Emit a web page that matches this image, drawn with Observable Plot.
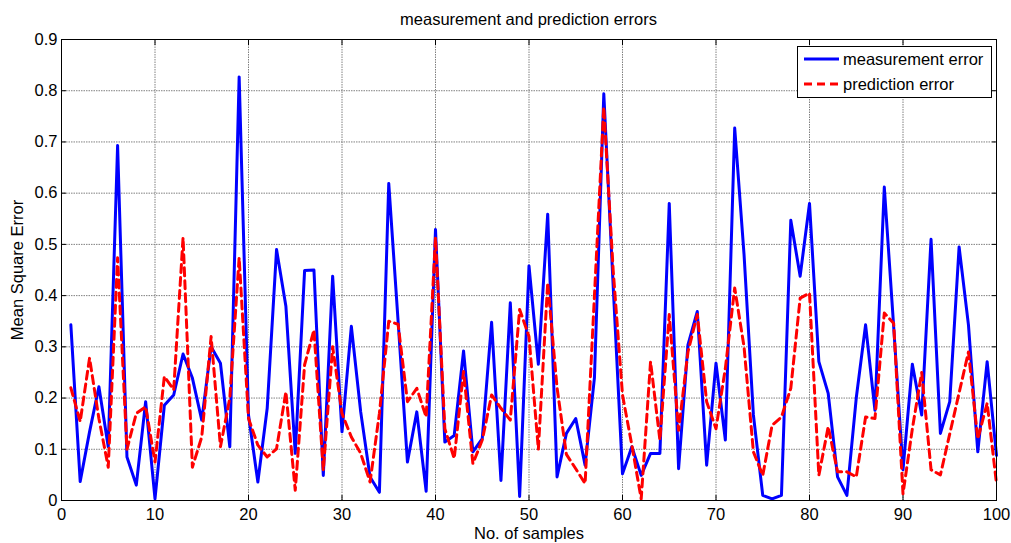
<!DOCTYPE html>
<html>
<head>
<meta charset="utf-8">
<script src="https://cdn.jsdelivr.net/npm/d3@7"></script>
<script src="https://cdn.jsdelivr.net/npm/@observablehq/plot@0.6"></script>
<style>
  body { margin: 0; background: #fff; font-family: "Liberation Sans", Arial, sans-serif; }
  #wrap { position: relative; width: 1011px; height: 543px; }
  #title { position: absolute; left: 61px; width: 935px; top: 9px; text-align: center; font-size: 16.5px; line-height: 20px; color: #000; }
  #legend { position: absolute; left: 797px; top: 46px; }
</style>
</head>
<body>
<div id="wrap">
  <div id="chart"></div>
  <div id="title"></div>
  <div id="legend"></div>
</div>
<script>
const titleText = "measurement and prediction errors";
const xLabel = "No. of samples";
const yLabel = "Mean Square Error";
const seriesNames = ["measurement error", "prediction error"];
const xTicks = [0, 10, 20, 30, 40, 50, 60, 70, 80, 90, 100];
const yTicks = [0, 0.1, 0.2, 0.3, 0.4, 0.5, 0.6, 0.7, 0.8, 0.9];

const measurementError = [
  0.343, 0.037, 0.134, 0.222, 0.105, 0.693, 0.085, 0.030, 0.193, 0.003,
  0.186, 0.206, 0.286, 0.239, 0.157, 0.300, 0.268, 0.105, 0.827, 0.167,
  0.036, 0.180, 0.490, 0.379, 0.092, 0.449, 0.450, 0.049, 0.438, 0.134,
  0.340, 0.173, 0.046, 0.016, 0.619, 0.350, 0.075, 0.173, 0.018, 0.529,
  0.114, 0.127, 0.292, 0.095, 0.121, 0.348, 0.039, 0.386, 0.008, 0.458,
  0.266, 0.559, 0.046, 0.131, 0.160, 0.069, 0.240, 0.794, 0.420, 0.052,
  0.105, 0.049, 0.092, 0.092, 0.580, 0.062, 0.304, 0.369, 0.069, 0.268,
  0.118, 0.727, 0.480, 0.167, 0.010, 0.003, 0.010, 0.547, 0.438, 0.580,
  0.271, 0.209, 0.046, 0.010, 0.200, 0.343, 0.176, 0.612, 0.340, 0.060,
  0.266, 0.167, 0.510, 0.131, 0.193, 0.495, 0.343, 0.095, 0.271, 0.088
];
const predictionError = [
  0.220, 0.154, 0.278, 0.160, 0.065, 0.474, 0.100, 0.170, 0.183, 0.075,
  0.242, 0.216, 0.513, 0.065, 0.124, 0.320, 0.105, 0.200, 0.474, 0.160,
  0.108, 0.085, 0.101, 0.212, 0.020, 0.265, 0.333, 0.059, 0.300, 0.170,
  0.124, 0.092, 0.036, 0.170, 0.350, 0.344, 0.193, 0.219, 0.163, 0.513,
  0.140, 0.082, 0.252, 0.072, 0.118, 0.206, 0.180, 0.157, 0.373, 0.320,
  0.100, 0.425, 0.220, 0.090, 0.062, 0.033, 0.400, 0.768, 0.450, 0.206,
  0.108, 0.003, 0.271, 0.118, 0.363, 0.137, 0.290, 0.363, 0.193, 0.140,
  0.258, 0.415, 0.300, 0.095, 0.049, 0.147, 0.163, 0.219, 0.395, 0.405,
  0.049, 0.144, 0.056, 0.056, 0.046, 0.163, 0.160, 0.366, 0.346, 0.013,
  0.140, 0.250, 0.060, 0.050, 0.130, 0.210, 0.290, 0.120, 0.190, 0.033
];

const meas = measurementError.map((v, i) => ({x: i + 1, y: v}));
const pred = predictionError.map((v, i) => ({x: i + 1, y: v}));
const yFmt = d => d === 0 ? "0" : d.toFixed(1);
const gridStyle = {stroke: "#808080", strokeOpacity: 1, strokeWidth: 1, strokeDasharray: "1.5,1"};
const font = "16.5px";

const chart = Plot.plot({
  width: 1011,
  height: 543,
  marginTop: 39,
  marginBottom: 43,
  marginLeft: 61,
  marginRight: 15,
  style: {fontFamily: '"Liberation Sans", Arial, sans-serif', fontSize: font, color: "#000", background: "#fff"},
  x: {domain: [0, 100]},
  y: {domain: [0, 0.9]},
  marks: [
    Plot.gridX(xTicks.slice(1, -1), gridStyle),
    Plot.gridY(yTicks.slice(1, -1), gridStyle),
    Plot.axisX(xTicks, {anchor: "bottom", tickSize: 0, tickPadding: 8, fontSize: font, label: xLabel, labelAnchor: "center", labelArrow: "none", labelOffset: 38}),
    Plot.axisX(xTicks, {anchor: "bottom", tickSize: -5, tickFormat: () => "", label: null}),
    Plot.axisX(xTicks, {anchor: "top", tickSize: -5, tickFormat: () => "", label: null}),
    Plot.axisY(yTicks, {anchor: "left", tickSize: 0, tickPadding: 4, tickFormat: yFmt, fontSize: font, label: yLabel, labelAnchor: "center", labelArrow: "none", labelOffset: 50}),
    Plot.axisY(yTicks, {anchor: "left", tickSize: -5, tickFormat: () => "", label: null}),
    Plot.axisY(yTicks, {anchor: "right", tickSize: -5, tickFormat: () => "", label: null}),
    Plot.line(meas, {x: "x", y: "y", stroke: "#0000ff", strokeWidth: 3}),
    Plot.line(pred, {x: "x", y: "y", stroke: "#ff0000", strokeWidth: 3, strokeDasharray: "8,5"}),
    Plot.frame({stroke: "#000", strokeWidth: 1})
  ]
});
document.getElementById("chart").appendChild(chart);
document.getElementById("title").textContent = titleText;

// Legend
const lg = d3.select("#legend").append("svg").attr("width", 195).attr("height", 52)
  .style("font-family", '"Liberation Sans", Arial, sans-serif').style("font-size", font);
lg.append("rect").attr("x", 0.5).attr("y", 0.5).attr("width", 194).attr("height", 51)
  .attr("fill", "#fff").attr("stroke", "#000");
const styles = [{stroke: "#0000ff", dash: null}, {stroke: "#ff0000", dash: "8,5"}];
seriesNames.forEach((name, k) => {
  const cy = 13 + k * 25;
  lg.append("line").attr("x1", 7).attr("x2", 42).attr("y1", cy).attr("y2", cy)
    .attr("stroke", styles[k].stroke).attr("stroke-width", 3)
    .attr("stroke-dasharray", styles[k].dash);
  lg.append("text").attr("x", 46).attr("y", cy).attr("dy", "0.35em").attr("fill", "#000").text(name);
});
</script>
</body>
</html>
